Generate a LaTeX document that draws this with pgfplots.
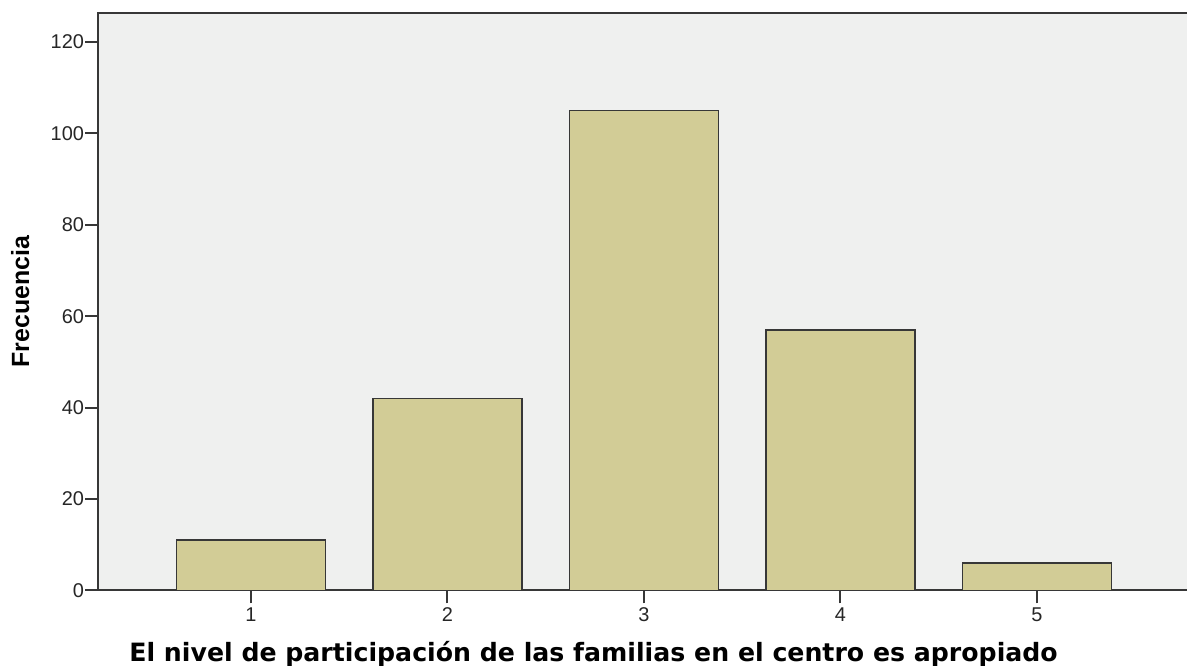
\documentclass[border=0pt]{standalone}
\usepackage{pgfplots}
\pgfplotsset{compat=1.18}
\usepackage{fontspec}
\setmainfont{Liberation Sans}
\newfontfamily\xlabfont{DejaVu Sans}
\definecolor{barcol}{RGB}{210,204,150}
\definecolor{bgcol}{RGB}{239,240,239}
\definecolor{linecol}{RGB}{55,55,55}
\begin{document}
\begin{tikzpicture}
\begin{axis}[
  scale only axis,
  width=1093.5bp, height=577.3bp,
  xmin=0.224, xmax=5.789,
  ymin=0, ymax=126.35,
  axis background/.style={fill=bgcol},
  axis line style={linecol, line width=2bp},
  tick style={linecol, line width=2bp},
  tick align=outside,
  major tick length=13bp,
  xtick={1,2,3,4,5},
  ytick={0,20,40,60,80,100,120},
  xtick pos=bottom, ytick pos=left,
  /pgf/number format/assume math mode=true,
  ticklabel style={font=\fontsize{20}{24}\selectfont, text=black!85},
  yticklabel style={xshift=2bp},
  xticklabel style={yshift=-1bp},
  xlabel={El nivel de participación de las familias en el centro es apropiado},
  ylabel={Frecuencia},
  xlabel style={font=\xlabfont\bfseries\fontsize{25.3}{30}\selectfont, at={(axis description cs:0.4527,-0.1225)}, anchor=base},
  ylabel style={font=\bfseries\fontsize{25}{30}\selectfont, at={(axis description cs:-0.0599,0.5)}, rotate=0, anchor=south},
  ybar, bar width=0.756,
  clip=false,
]
\addplot[fill=barcol, draw=linecol, line width=1.5bp] coordinates {(1,11) (2,42) (3,105) (4,57) (5,6)};
\coordinate (O) at (rel axis cs:0,0);
\end{axis}
\pgfresetboundingbox
\path (O) ++(-98.5bp,-75.7bp) rectangle ++(1187bp,666bp);
\end{tikzpicture}
\end{document}
